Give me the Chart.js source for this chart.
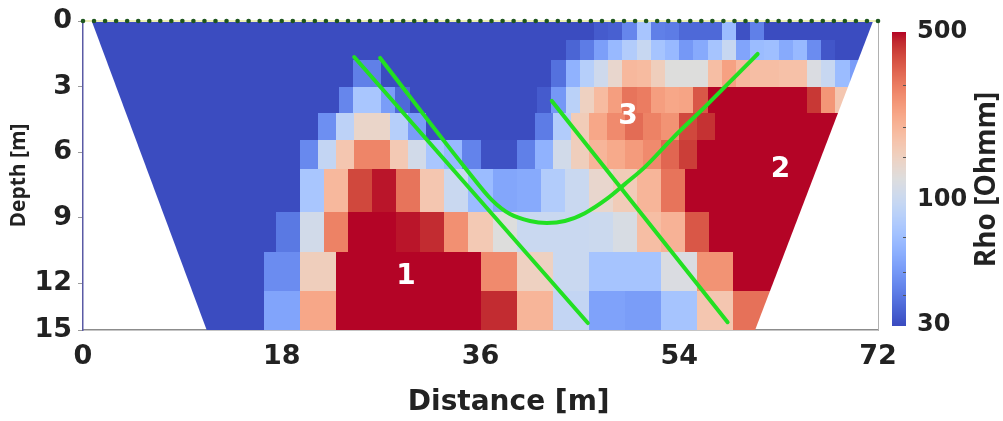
<!DOCTYPE html>
<html><head><meta charset="utf-8">
<script src="https://cdn.jsdelivr.net/npm/chart.js@4.4.1/dist/chart.umd.min.js"></script>
<style>html,body{margin:0;padding:0;background:#fff;}canvas{display:block;}</style>
</head><body>
<canvas id="c" width="1003" height="421"></canvas>
<script>
// ---------------- data ----------------
const distanceRange = [0, 72];
const distanceTicks = [0, 18, 36, 54, 72];
const depthTicks = [0, 3, 6, 9, 12, 14.15];
const depthTickLabels = ['0', '3', '6', '9', '12', '15'];
const depthEdges = [0, 0.87, 1.79, 3.01, 4.23, 5.45, 6.78, 8.74, 10.57, 12.35, 14.15];
const columnsPerRow = [56, 56, 56, 56, 44, 44, 33, 33, 22, 22];

const rhoRow0 = [30,30,30,30,30,30,30,30,30,30,30,30,30,30,30,30,30,30,30,30,30,30,30,30,30,30,30,30,30,30,30,30,30,30,30,30,
  33,34,44,75,42,41,36,36,36,68,31,42, 30,30,30,30,30,30,30,30];
const rhoRow1 = [30,30,30,30,30,30,30,30,30,30,30,30,30,30,30,30,30,30,30,30,30,30,30,30,30,30,30,30,30,30,30,30,30,30,
  35,41,53,66,82,98,74,66,50,58,74,98,55,68,70,58,66,46,32, 30,30,30];
const rhoRow2 = [30,30,30,30,30,30,30,30,30,30,30,30,30,30,30,30,30,30,30, 42,42, 30,30,30,30,30,30,30,30,30,30,30,30,
  38,62,85,105,138,195,190,155,123,123,123,185,235,195,185,185,180,180,118,98,68,52, 30];
const rhoRow3 = [30,30,30,30,30,30,30,30,30,30,30,30,30,30,30,30,30,30, 44,76,76,52,36, 30,30,30,30,30,30,30,30,30,
  33,50,88,150,190,240,315,300,240,225,230,370,500,500,500,500,500,500,500,430,255,170,140, 30];
const rhoRow4 = [30,30,30,30,30,30,30,30,30,30,30,30,30, 47,90,142,142,85,52, 30,30,30,30,30,30,
  41,82,160,225,275,330,290,260,400,440, 500,500,500,500,500,500,500,500,500];
const rhoRow5 = [30,30,30,30,30,30,30,30,30,30,30,30,
  45,95,170,285,285,165,108,76,66,43,31,31,42,62,108,155,200,220,245,275,340,420, 500,500,500,500,500,500,500,500,500,500];
const rhoRow6 = [30,30,30,30,30,30,30,30,30, 76,195,400,480,315,170,100,68,56,58,82,100,138,160,200,315, 500,500,500,500,500,500,500,500];
const rhoRow7 = [30,30,30,30,30,30,30,30, 40,108,290,500,500,480,450,265,165,123,100,100,100,102,115,185,205,370, 500,500,500,500,500,500,500];
const rhoRow8 = [30,30,30,30,30, 46,155,500,500,500,500,275,150,100,74,74,118,260, 500,500,500,500];
const rhoRow9 = [30,30,30,30,30, 55,225,500,500,500,500,450,200,95,54,52,74,170,320, 500,500,500];
const rhoRows = [rhoRow0, rhoRow1, rhoRow2, rhoRow3, rhoRow4, rhoRow5, rhoRow6, rhoRow7, rhoRow8, rhoRow9];

const rhoRange = [30, 500];
const rhoTicks = [30, 100, 500];
const rhoMinorTicks = [40, 50, 70, 150, 200, 300];

const modelOutlineX = [0.79, 71.56, 60.87, 11.2];
const modelOutlineDepth = [0, 0, 14.15, 14.15];

const electrodeX = [0,1,2,3,4,5,6,7,8,9,10,11,12,13,14,15,16,17,18,19,20,21,22,23,24,25,26,27,28,29,30,31,32,33,34,35,36,
  37,38,39,40,41,42,43,44,45,46,47,48,49,50,51,52,53,54,55,56,57,58,59,60,61,62,63,64,65,66,67,68,69,70,71,72];

const lineAX = [24.56, 45.72];
const lineADepth = [1.65, 13.83];
const lineCX = [42.46, 58.38];
const lineCDepth = [3.66, 13.79];
const curveBX = [26.91, 34.78, 37.04, 38.67, 40.48, 42.01, 43.64, 45.45, 47.44, 49.07, 50.88, 53.41, 56.49, 59.47, 61.10];
const curveBDepth = [1.69, 6.83, 8.20, 8.84, 9.16, 9.25, 9.16, 8.80, 8.15, 7.47, 6.69, 5.36, 3.85, 2.34, 1.51];

const anomalyLabels = ['1', '2', '3'];
const anomalyX = [29.26, 63.18, 49.35];
const anomalyDepth = [11.73, 6.83, 4.40];

// ---------------- styling helpers ----------------
const FONT = "'Open Sans', 'Noto Sans', sans-serif";
const WIDE = "'DejaVu Sans', 'Open Sans', sans-serif";
const CW = [[59,76,192],[68,90,204],[77,104,215],[87,117,225],[98,130,234],[108,142,241],[119,154,247],[130,165,251],
  [141,176,254],[152,185,255],[163,194,255],[174,201,253],[184,208,249],[194,213,244],[204,217,238],[213,219,230],
  [221,221,221],[229,216,209],[236,211,197],[241,204,184],[245,196,173],[247,187,160],[247,177,148],[247,166,135],
  [244,154,123],[241,141,111],[236,127,99],[229,112,88],[222,96,77],[213,80,66],[203,62,56],[192,40,47],[180,4,38]];
function rhoColor(v) {
  let f = Math.log(v / rhoRange[0]) / Math.log(rhoRange[1] / rhoRange[0]);
  f = Math.max(0, Math.min(1, f));
  const p = f * 32, i = Math.min(31, Math.floor(p)), t = p - i;
  const a = CW[i], b = CW[i + 1];
  return 'rgb(' + [0,1,2].map(k => Math.round(a[k] + (b[k] - a[k]) * t)).join(',') + ')';
}
const pts = (xs, ys) => xs.map((v, i) => ({x: v, y: ys[i]}));

const sectionPlugin = {
  id: 'section',
  beforeDatasetsDraw(chart) {
    const {ctx, chartArea, scales: {x, y}} = chart;
    ctx.save();
    ctx.beginPath();
    ctx.rect(chartArea.left, chartArea.top, chartArea.width, chartArea.height);
    ctx.clip();
    ctx.beginPath();
    modelOutlineX.forEach((v, i) => {
      const px = x.getPixelForValue(v), py = y.getPixelForValue(modelOutlineDepth[i]);
      if (i) ctx.lineTo(px, py); else ctx.moveTo(px, py);
    });
    ctx.closePath();
    ctx.clip();
    const span = distanceRange[1] - distanceRange[0];
    rhoRows.forEach((row, r) => {
      const w = span / columnsPerRow[r];
      const yt = Math.round(y.getPixelForValue(depthEdges[r])), yb = Math.round(y.getPixelForValue(depthEdges[r + 1]));
      row.forEach((v, c) => {
        const xl = Math.round(x.getPixelForValue(distanceRange[0] + c * w));
        const xr = Math.round(x.getPixelForValue(distanceRange[0] + (c + 1) * w));
        ctx.fillStyle = rhoColor(v);
        ctx.fillRect(xl, yt, xr - xl, yb - yt);
      });
    });
    ctx.restore();
  },
  afterDatasetsDraw(chart) {
    const {ctx, scales: {x, y}} = chart;
    ctx.save();
    ctx.fillStyle = '#ffffff';
    ctx.font = 'bold 28px ' + WIDE;
    ctx.textAlign = 'center';
    ctx.textBaseline = 'middle';
    anomalyLabels.forEach((t, i) => ctx.fillText(t, x.getPixelForValue(anomalyX[i]), y.getPixelForValue(anomalyDepth[i])));
    ctx.restore();
  },
  afterDraw(chart) {
    const {ctx, chartArea} = chart;
    const cb = chart.scales.cb;
    ctx.save();
    const x0 = chartArea.right + 14, w = 14;
    const yTop = cb.getPixelForValue(rhoRange[1]), yBot = cb.getPixelForValue(rhoRange[0]);
    for (let py = Math.floor(yTop); py < yBot; py++) {
      ctx.fillStyle = rhoColor(cb.getValueForPixel(py + 0.5));
      ctx.fillRect(x0, py, w, 1);
    }
    ctx.strokeStyle = '#555';
    ctx.lineWidth = 1;
    rhoMinorTicks.forEach(v => {
      const py = Math.round(cb.getPixelForValue(v)) + 0.5;
      ctx.beginPath(); ctx.moveTo(x0 + w - 3, py); ctx.lineTo(x0 + w, py); ctx.stroke();
    });
    // titles
    ctx.fillStyle = '#222';
    ctx.textAlign = 'center';
    ctx.textBaseline = 'middle';
    ctx.font = 'bold 28px ' + WIDE;
    ctx.fillText('Distance [m]', chartArea.left + chartArea.width * 0.5355, chartArea.bottom + 73);
    ctx.font = 'bold 28px ' + FONT;
    ctx.translate(cb.right - 16, (chartArea.top + chartArea.bottom) / 2 + 4);
    ctx.rotate(-Math.PI / 2);
    ctx.fillText('Rho [Ohmm]', 0, 0);
    ctx.restore();
  }
};

new Chart(document.getElementById('c'), {
  type: 'scatter',
  data: {
    datasets: [
      {data: pts(lineAX, lineADepth), showLine: true, borderColor: '#22e022', borderWidth: 4, pointRadius: 0, borderCapStyle: 'round'},
      {data: pts(lineCX, lineCDepth), showLine: true, borderColor: '#22e022', borderWidth: 4, pointRadius: 0, borderCapStyle: 'round'},
      {data: pts(curveBX, curveBDepth), showLine: true, borderColor: '#22e022', borderWidth: 4, pointRadius: 0,
       cubicInterpolationMode: 'monotone', borderCapStyle: 'round'},
      {data: electrodeX.map(v => ({x: v, y: 0})), showLine: true, borderColor: '#eef0b8', borderWidth: 2,
       pointRadius: 2.3, pointBackgroundColor: '#1f561f', pointBorderWidth: 0, clip: false}
    ]
  },
  options: {
    responsive: false,
    animation: false,
    devicePixelRatio: 1,
    layout: {padding: {top: 21, left: 0, right: 0, bottom: 0}},
    plugins: {legend: {display: false}, tooltip: {enabled: false}},
    scales: {
      x: {
        type: 'linear', position: 'bottom', min: distanceRange[0], max: distanceRange[1],
        afterBuildTicks: s => { s.ticks = distanceTicks.map(v => ({value: v})); },
        ticks: {font: {family: WIDE, size: 27, weight: 'bold', lineHeight: 1}, color: '#222', padding: 13, maxRotation: 0, autoSkip: false},
        grid: {display: false, drawTicks: false},
        border: {display: true, color: '#8c8c8c', width: 1.5},
        afterFit: s => { s.height = 91; }
      },
      y: {
        type: 'linear', position: 'left', min: depthTicks[0], max: depthTicks[depthTicks.length - 1], reverse: true,
        afterBuildTicks: s => { s.ticks = depthTicks.map(v => ({value: v})); },
        ticks: {callback: (v, i) => depthTickLabels[i], font: {family: WIDE, size: 27, weight: 'bold', lineHeight: 1}, color: '#222', padding: 6, autoSkip: false},
        grid: {drawOnChartArea: false, drawTicks: true, tickLength: 5, color: '#9a9a9a'},
        border: {display: true, color: '#5a5aa5', width: 1.5},
        title: {display: true, text: 'Depth [m]', color: '#222', font: {family: FONT, size: 21, weight: 'bold'}, padding: {top: 6, bottom: 0}},
        afterFit: s => { s.width = 83; }
      },
      cb: {
        type: 'logarithmic', position: 'right', min: 28.6, max: 555.7,
        afterBuildTicks: s => { s.ticks = rhoTicks.map(v => ({value: v})); },
        ticks: {callback: v => String(v), font: {family: WIDE, size: 24, weight: 'bold', lineHeight: 1}, color: '#222', padding: 5, autoSkip: false},
        grid: {display: true, drawOnChartArea: false, drawTicks: true, tickLength: 34, color: 'rgba(0,0,0,0)'},
        border: {display: true, color: '#b0b0b0', width: 1},
        afterFit: s => { s.width = 125; }
      }
    }
  },
  plugins: [sectionPlugin]
});
</script>
</body></html>
